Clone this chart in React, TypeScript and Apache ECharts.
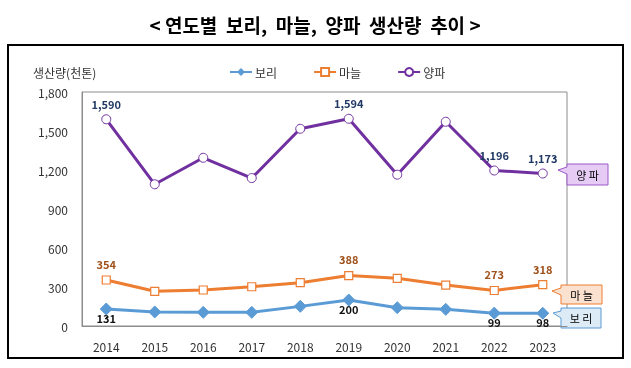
import React, { useEffect, useRef } from "react";
import * as echarts from "echarts";

const years = ["2014", "2015", "2016", "2017", "2018", "2019", "2020", "2021", "2022", "2023"];
const barley = [131, 108, 105, 105, 151, 200, 141, 128, 99, 98];
const garlic = [354, 267, 277, 302, 333, 388, 367, 315, 273, 318];
const onion = [1590, 1090, 1294, 1138, 1517, 1594, 1164, 1571, 1196, 1173];
const labeledIdx = [0, 5, 8, 9];
const yTicks = [0, 300, 600, 900, 1200, 1500, 1800];

const FONT = "'Noto Sans CJK KR', 'Noto Sans', sans-serif";

function fmt(p: any) {
  return labeledIdx.includes(p.dataIndex) ? Number(p.value).toLocaleString("en-US") : "";
}

function callout(x: number, y: number, w: number, h: number, tipX: number, tipY: number, fill: string, stroke: string, text: string) {
  return {
    type: "group",
    children: [
      {
        type: "polygon",
        shape: {
          points: [
            [x, y], [x + w, y], [x + w, y + h], [x, y + h], [x, y + 10], [tipX, tipY], [x, y + 3],
          ],
        },
        style: { fill, stroke, lineWidth: 1 },
      },
      {
        type: "text",
        x: x + w / 2,
        y: y + h / 2,
        style: { text, fill: "#000", font: `11px ${FONT}`, align: "center", verticalAlign: "middle" },
      },
    ],
  };
}

export default function App() {
  const ref = useRef<HTMLDivElement>(null);
  useEffect(() => {
    const chart = echarts.init(ref.current!, null, { renderer: "svg" });
    chart.setOption({
      animation: false,
      textStyle: { fontFamily: FONT },
      grid: { left: 82, top: 92, right: 64, bottom: 42, show: true, borderColor: "#8c8c8c", borderWidth: 1 },
      legend: {
        top: 61,
        left: 224,
        itemGap: 36,
        itemWidth: 22,
        itemHeight: 10,
        textStyle: { fontSize: 12, color: "#333", fontFamily: FONT, padding: [0, 0, 0, -2] },
        data: ["보리", "마늘", "양파"],
      },
      xAxis: {
        type: "category",
        data: years,
        boundaryGap: true,
        axisLine: { show: true, lineStyle: { color: "#8c8c8c" } },
        axisTick: { show: false },
        axisLabel: { fontSize: 12, color: "#333", margin: 14, fontFamily: FONT },
      },
      yAxis: {
        type: "value",
        min: yTicks[0],
        max: yTicks[yTicks.length - 1],
        interval: 300,
        splitLine: { show: false },
        axisLine: { show: true, lineStyle: { color: "#8c8c8c" } },
        axisTick: { show: false },
        axisLabel: {
          fontSize: 12,
          color: "#333",
          margin: 14,
          fontFamily: FONT,
          formatter: (v: number) => v.toLocaleString("en-US"),
        },
      },
      series: [
        {
          name: "보리",
          type: "line",
          data: barley,
          symbol: "diamond",
          symbolSize: 12,
          lineStyle: { color: "#5B9BD5", width: 3 },
          itemStyle: { color: "#5B9BD5", borderColor: "#5B9BD5" },
          label: {
            show: true,
            position: "bottom",
            distance: -3,
            formatter: fmt,
            color: "#111",
            fontWeight: "bold",
            fontSize: 11,
            fontFamily: FONT,
          },
          z: 3,
        },
        {
          name: "마늘",
          type: "line",
          data: garlic,
          symbol: "rect",
          symbolSize: 8,
          lineStyle: { color: "#ED7D31", width: 3 },
          itemStyle: { color: "#ffffff", borderColor: "#ED7D31", borderWidth: 1.2 },
          label: {
            show: true,
            position: "top",
            distance: 6,
            formatter: fmt,
            color: "#A0521C",
            fontWeight: "bold",
            fontSize: 11,
            fontFamily: FONT,
          },
          z: 3,
        },
        {
          name: "양파",
          type: "line",
          data: onion,
          symbol: "circle",
          symbolSize: 9,
          lineStyle: { color: "#7030A0", width: 3 },
          itemStyle: { color: "#ffffff", borderColor: "#7030A0", borderWidth: 1 },
          label: {
            show: true,
            position: "top",
            distance: 5,
            formatter: fmt,
            color: "#203864",
            fontWeight: "bold",
            fontSize: 11,
            fontFamily: FONT,
          },
          z: 3,
        },
      ],
      graphic: [
        {
          type: "rect",
          shape: { x: 8, y: 45, width: 615, height: 313 },
          style: { fill: "none", stroke: "#000", lineWidth: 2 },
          silent: true,
        },
        {
          type: "text",
          x: 315,
          y: 24,
          style: {
            text: "< 연도별  보리,  마늘,  양파  생산량  추이 >",
            font: `bold 19px ${FONT}`,
            fill: "#000",
            align: "center",
            verticalAlign: "middle",
          },
        },
        {
          type: "text",
          x: 33,
          y: 72,
          style: { text: "생산량(천톤)", font: `12px ${FONT}`, fill: "#333", verticalAlign: "middle" },
        },
        callout(567, 164, 41, 21, 558, 170, "#E6CCF5", "#9B59C8", "양 파"),
        callout(561, 285, 41, 19, 552, 291, "#FBE2D0", "#ED7D31", "마 늘"),
        callout(561, 308, 40, 20, 553, 313, "#DDEBF7", "#5B9BD5", "보 리"),
      ],
    });
    return () => chart.dispose();
  }, []);
  return <div ref={ref} style={{ position: "fixed", left: 0, top: 0, width: 631, height: 368 }} />;
}
